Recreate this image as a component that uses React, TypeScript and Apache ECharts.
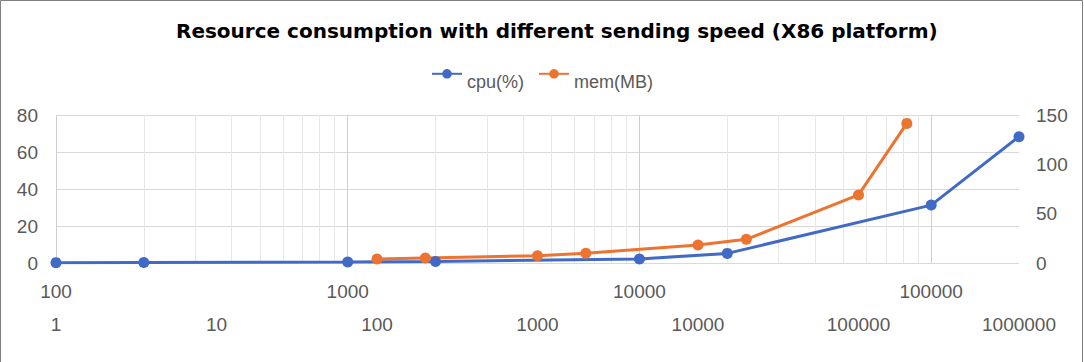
import React, { useEffect, useRef } from "react";
import * as echarts from "echarts";

const speeds = [100, 200, 1000, 2000, 10000, 20000, 100000, 200000];
const cpuValues = [0.2, 0.3, 0.5, 0.8, 2.2, 5.2, 31.3, 68.3];
const memValues = [4, 5, 7.4, 9.8, 18.2, 24, 69, 141.5];
const minorGridValues = [
  200, 300, 400, 500, 600, 700, 800, 900,
  2000, 3000, 4000, 5000, 6000, 7000, 8000, 9000,
  20000, 30000, 40000, 50000, 60000, 70000, 80000, 90000,
];
const titleText = "Resource consumption with different sending speed (X86 platform)";
const legendNames = ["cpu(%)", "mem(MB)"];

const FONT = "'Liberation Sans', Arial, sans-serif";
const GREY = "#595959";

export default function App() {
  const ref = useRef<HTMLDivElement>(null);
  useEffect(() => {
    document.body.style.margin = "0";
    const chart = echarts.init(ref.current!, null, { renderer: "svg" });
    const fmt = (v: number) => String(Math.round(v));
    chart.setOption({
      animation: false,
      backgroundColor: "#ffffff",
      textStyle: { fontFamily: FONT },
      graphic: [
        {
          type: "rect",
          shape: { x: 0.5, y: 0.5, width: 1082, height: 380 },
          style: { fill: "none", stroke: "#7f7f7f", lineWidth: 1 },
          silent: true,
        },
      ],
      title: {
        text: titleText,
        left: 176,
        top: 21,
        padding: 0,
        textStyle: { fontFamily: "'DejaVu Sans', sans-serif", fontSize: 20, fontWeight: "bold", color: "#000000" },
      },
      legend: {
        data: legendNames,
        top: 64,
        left: "center",
        itemWidth: 30,
        itemHeight: 12,
        itemGap: 14,
        formatter: (name: string) => "{t|" + name + "}",
        textStyle: {
          fontFamily: FONT,
          fontSize: 18,
          color: GREY,
          rich: { t: { fontFamily: FONT, fontSize: 18, color: GREY, padding: [16, 0, 0, 0] } },
        },
      },
      grid: { left: 56, right: 65, top: 115, bottom: 99, containLabel: false },
      xAxis: [
        {
          type: "log",
          logBase: 10,
          min: 100,
          max: 200000,
          position: "bottom",
          axisLine: { show: false },
          axisTick: { show: false },
          axisLabel: {
            margin: 19,
            fontSize: 19,
            color: GREY,
            fontFamily: FONT,
            showMaxLabel: false,
            formatter: fmt,
          },
          splitLine: { show: true, showMaxLine: false, lineStyle: { color: "#cfcfcf", width: 1 } },
        },
        {
          type: "log",
          logBase: 10,
          min: 1,
          max: 1000000,
          position: "bottom",
          offset: 33,
          axisLine: { show: false },
          axisTick: { show: false },
          axisLabel: { margin: 19, fontSize: 19, color: GREY, fontFamily: FONT, formatter: fmt },
          splitLine: { show: false },
        },
      ],
      yAxis: [
        {
          type: "value",
          min: 0,
          max: 80,
          interval: 20,
          axisLine: { show: false },
          axisTick: { show: false },
          axisLabel: { margin: 18, fontSize: 19, color: GREY, fontFamily: FONT },
          splitLine: { lineStyle: { color: "#d9d9d9", width: 1 } },
        },
        {
          type: "value",
          min: 0,
          max: 150,
          interval: 50,
          position: "right",
          axisLine: { show: false },
          axisTick: { show: false },
          axisLabel: { margin: 17, fontSize: 19, color: GREY, fontFamily: FONT },
          splitLine: { show: false },
        },
      ],
      series: [
        {
          name: "grid-minor",
          type: "line",
          xAxisIndex: 0,
          yAxisIndex: 0,
          data: [[100, 0]],
          showSymbol: false,
          lineStyle: { opacity: 0 },
          silent: true,
          z: 1,
          markLine: {
            z: 1,
            silent: true,
            symbol: ["none", "none"],
            label: { show: false },
            lineStyle: { color: "#e8e8e8", width: 1, type: "solid" },
            emphasis: { disabled: true },
            data: minorGridValues.map((v) => ({ xAxis: v })),
          },
        },
        {
          name: legendNames[0],
          type: "line",
          xAxisIndex: 0,
          yAxisIndex: 0,
          z: 3,
          data: speeds.map((s, i) => [s, cpuValues[i]]),
          symbol: "circle",
          symbolSize: 11,
          itemStyle: { color: "#4169c6" },
          lineStyle: { color: "#4169c6", width: 3 },
        },
        {
          name: legendNames[1],
          type: "line",
          xAxisIndex: 1,
          yAxisIndex: 1,
          z: 3,
          data: speeds.map((s, i) => [s, memValues[i]]),
          symbol: "circle",
          symbolSize: 11,
          itemStyle: { color: "#ed7430" },
          lineStyle: { color: "#ed7430", width: 3 },
        },
      ],
    });
    return () => chart.dispose();
  }, []);
  return <div ref={ref} style={{ width: 1084, height: 362 }} />;
}
